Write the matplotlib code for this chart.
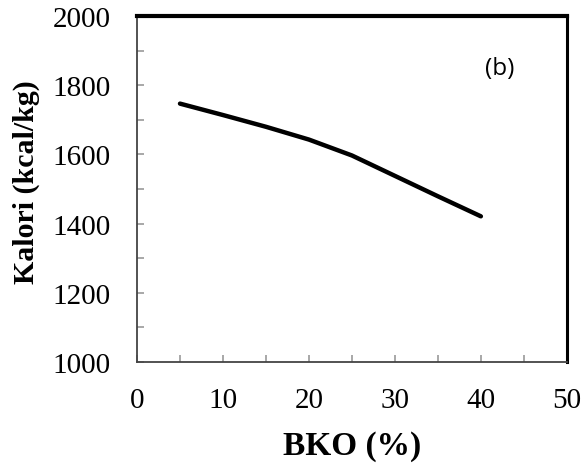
import matplotlib.pyplot as plt
from matplotlib.ticker import MultipleLocator

# data
bko = [5, 10, 15, 20, 25, 30, 35, 40]
kalori = [1747, 1714, 1680, 1643, 1597, 1538, 1479, 1421]

xticks = [0, 10, 20, 30, 40, 50]
yticks = [1000, 1200, 1400, 1600, 1800, 2000]

plt.rcParams["font.family"] = ["Liberation Serif", "DejaVu Serif"]

fig = plt.figure(figsize=(5.88, 4.64), dpi=100)
ax = fig.add_axes([0.233, 0.218, 0.731, 0.745])

ax.plot(bko, kalori, color="black", lw=3.2, solid_capstyle="round", solid_joinstyle="round")

ax.set_xlim(0, 50)
ax.set_ylim(1000, 2000)
ax.set_xticks(xticks)
ax.set_yticks(yticks)
ax.xaxis.set_minor_locator(MultipleLocator(5))
ax.yaxis.set_minor_locator(MultipleLocator(100))
ax.tick_params(which="both", direction="in", length=5, width=1.2, color="#9a9a9a",
               labelsize=21)
ax.tick_params(axis="x", which="both", pad=18)
ax.tick_params(axis="y", which="both", pad=19)
ax.tick_params(which="both", top=False, right=False)

for s in ("left", "bottom"):
    ax.spines[s].set_color("#444444")
    ax.spines[s].set_linewidth(1.3)
ax.spines["top"].set_linewidth(3.0)
ax.spines["right"].set_linewidth(2.2)
for s in ("top", "right"):
    ax.spines[s].set_color("black")

ax.set_xlabel("BKO (%)", fontsize=24, fontweight="bold", va="center")
ax.xaxis.set_label_coords(0.5, -0.243)
ax.set_ylabel("Kalori (kcal/kg)", fontsize=21.5, fontweight="bold", va="center", ha="center")
ax.yaxis.set_label_coords(-0.258, 0.523)

ax.text(0.844, 0.85, "(b)", transform=ax.transAxes, ha="center", va="center",
        fontsize=17.5, family=["Open Sans", "DejaVu Sans"])

fig.savefig("out.png", dpi=100)
